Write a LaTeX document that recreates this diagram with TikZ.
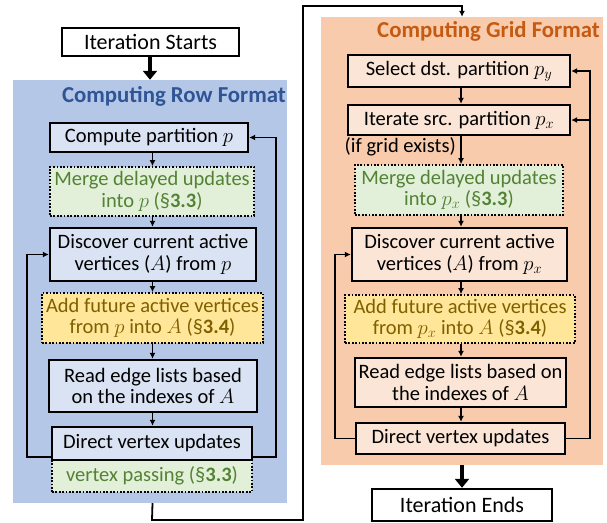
\documentclass[tikz,border=0pt]{standalone}
\usepackage{fontspec}
\setmainfont{Carlito}
\usetikzlibrary{arrows.meta}

\definecolor{rowbg}{HTML}{B4C7E7}
\definecolor{rowbox}{HTML}{DAE3F3}
\definecolor{gridbg}{HTML}{F8CBAD}
\definecolor{gridbox}{HTML}{FBE5D6}
\definecolor{greenbox}{HTML}{E2F0D9}
\definecolor{greentext}{HTML}{548235}
\definecolor{yellowbox}{HTML}{FFE699}
\definecolor{yellowtext}{HTML}{7F6000}
\definecolor{rowtitle}{HTML}{2F5597}
\definecolor{gridtitle}{HTML}{C55A11}

\tikzset{
  body/.style={font=\fontsize{20.5}{21.5}\selectfont},
  stepbox/.style={body, draw=black, line width=2.4pt, inner sep=0pt, align=center},
  optbox/.style={body, draw=black, line width=1.7pt, dash pattern=on 1.7pt off 1.7pt, inner sep=0pt, align=center},
  greenopt/.style={optbox, fill=greenbox, text=greentext},
  yellowopt/.style={optbox, fill=yellowbox, text=yellowtext},
  panel/.style={draw=none, inner sep=0pt},
  endbox/.style={draw=black, line width=2.4pt, fill=white, inner sep=0pt, font=\fontsize{22}{24}\selectfont},
  title/.style={font=\fontsize{22.8}{24}\selectfont\bfseries, inner sep=0pt, anchor=east},
  arr/.style={line width=1.8pt, -{Latex[length=6pt,width=6pt]}},
  loopline/.style={line width=1.8pt, -{Latex[length=6pt,width=6pt]}},
  bigarr/.style={line width=4pt, -{Triangle[length=9pt,width=14pt]}},
}

\begin{document}
\begin{tikzpicture}[x=1pt,y=-1pt]
\useasboundingbox (0,0) rectangle (607,522);

% background panels
\node[panel, fill=rowbg, minimum width=274, minimum height=423] (rowpanel) at (150,291.5) {};
\node[panel, fill=gridbg, minimum width=282, minimum height=448] (gridpanel) at (462,241) {};

\node[title, text=rowtitle] (rowhead) at (286,96) {Computing Row Format};
\node[title, text=gridtitle] (gridhead) at (600,31) {Computing Grid Format};

% start / end
\node[endbox, minimum width=177, minimum height=28] (start) at (150.5,42) {Iteration Starts};
\node[endbox, minimum width=180, minimum height=32] (ends) at (462,505) {Iteration Ends};

% row format column
\coordinate (ax) at (152.5,0);
\node[stepbox, fill=rowbox, minimum width=198, minimum height=29] (compute) at (149,137.5) {Compute partition $p$};
\node[greenopt, minimum width=204, minimum height=49] (merge1) at (152,191.5) {Merge delayed updates\\into $p$ (§\textbf{3.3})};
\node[stepbox, fill=rowbox, minimum width=206, minimum height=53] (disc1) at (153,254.5) {Discover current active\\vertices ($A$) from $p$};
\node[yellowopt, minimum width=221, minimum height=50] (add1) at (152.5,318) {Add future active vertices\\from $p$ into $A$ (§\textbf{3.4})};
\node[stepbox, fill=rowbox, minimum width=208, minimum height=52] (read1) at (153,386) {Read edge lists based\\on the indexes of $A$};
\node[greenopt, minimum width=200, minimum height=32] (pass1) at (152,476) {vertex passing (§\textbf{3.3})};
\node[stepbox, fill=rowbox, minimum width=200, minimum height=33] (direct1) at (152,443.5) {Direct vertex updates};

\draw[arr] (compute.south -| ax) -- (merge1.north -| ax);
\draw[arr] (merge1.south -| ax) -- (disc1.north -| ax);
\draw[arr] (disc1.south -| ax) -- (add1.north -| ax);
\draw[arr] (add1.south -| ax) -- (read1.north -| ax);
\draw[arr] (read1.south -| ax) -- (direct1.north -| ax);

\coordinate (rl) at (27,0);
\coordinate (rr) at (276,0);
\draw[loopline] ([yshift=4pt]direct1.south west) -- ([yshift=4pt]direct1.south west -| rl) -- (rl |- disc1.west) -- (disc1.west);
\draw[loopline] ([yshift=4pt]direct1.south east) -- ([yshift=4pt]direct1.south east -| rr) -- (rr |- compute.east) -- (compute.east);

% grid format column
\coordinate (gx) at (461,0);
\node[stepbox, fill=gridbox, minimum width=222, minimum height=32] (select) at (459,71) {Select dst. partition $p_y$};
\node[stepbox, fill=gridbox, minimum width=222, minimum height=30] (iterate) at (459,120) {Iterate src. partition $p_x$};
\node[body, inner sep=0pt, anchor=east] (ifgrid) at (456,147) {(if grid exists)};
\node[greenopt, minimum width=208, minimum height=50] (merge2) at (459,190) {Merge delayed updates\\into $p_x$ (§\textbf{3.3})};
\node[stepbox, fill=gridbox, minimum width=215, minimum height=53] (disc2) at (459.5,254.5) {Discover current active\\vertices ($A$) from $p_x$};
\node[yellowopt, minimum width=230, minimum height=48] (add2) at (460,319) {Add future active vertices\\from $p_x$ into $A$ (§\textbf{3.4})};
\node[stepbox, fill=gridbox, minimum width=211, minimum height=49] (read2) at (460.5,382.5) {Read edge lists based on\\the indexes of $A$};
\node[stepbox, fill=gridbox, minimum width=209, minimum height=31] (direct2) at (460.5,438.5) {Direct vertex updates};

\draw[arr] (select.south -| gx) -- (iterate.north -| gx);
\draw[arr] (iterate.south -| gx) -- (merge2.north -| gx);
\draw[arr] (merge2.south -| gx) -- (disc2.north -| gx);
\draw[arr] (disc2.south -| gx) -- (add2.north -| gx);
\draw[arr] (add2.south -| gx) -- (read2.north -| gx);
\draw[arr] (read2.south -| gx) -- (direct2.north -| gx);

\coordinate (gl) at (335,0);
\coordinate (gr) at (590,0);
\draw[loopline] (direct2.west) -- (direct2.west -| gl) -- (gl |- disc2.west) -- (disc2.west);
\draw[loopline] (direct2.east) -- (direct2.east -| gr) -- (gr |- select.east) -- (select.east);
\draw[loopline] (gr |- iterate.east) -- (iterate.east);

% flow between the stages
\draw[bigarr] (start.south -| rowpanel.north) -- (rowpanel.north);
\coordinate (bl) at (152,520);
\coordinate (br) at (303,520);
\coordinate (tr) at (303,6);
\coordinate (tl) at (462,6);
\draw[arr] (rowpanel.south -| ax) -- (bl) -- (br) -- (tr) -- (tl) -- (gridpanel.north);
\draw[bigarr] (gridpanel.south) -- (ends.north);
\end{tikzpicture}
\end{document}
